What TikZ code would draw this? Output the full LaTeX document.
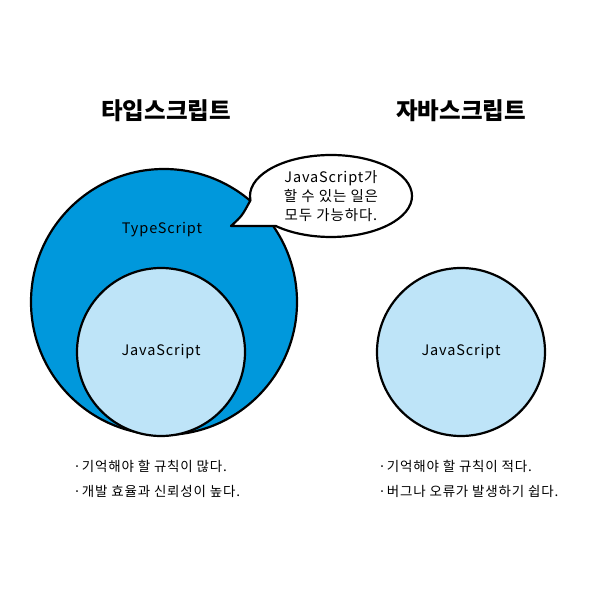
\documentclass[tikz,border=0pt]{standalone}
\usepackage{fontspec}
\usepackage{xcolor}
\usepackage{tikz}
\usetikzlibrary{calc}
\newfontfamily\kr{Noto Sans CJK KR}
\newfontfamily\krwide[LetterSpace=6]{Noto Sans CJK KR}
\definecolor{tsblue}{RGB}{0,152,220}
\definecolor{jsblue}{RGB}{190,228,248}

\begin{document}
\begin{tikzpicture}[x=1pt, y=1pt, line width=2.2pt,
    blob/.style={circle, draw=black, inner sep=0pt},
    title/.style={font=\kr\fontsize{23.5}{26}\selectfont\bfseries},
    lbl/.style={font=\krwide\fontsize{14.5}{19}\selectfont},
    note/.style={font=\krwide\fontsize{13.5}{25}\selectfont, align=left, anchor=west}]
  \useasboundingbox (0,0) rectangle (600,600);
  % circles
  \node[blob, fill=tsblue, minimum size=266] (ts) at (164,298) {};
  \node[blob, fill=jsblue, minimum size=168, lbl] (jsl) at (161,248) {JavaScript};
  \node[blob, fill=jsblue, minimum size=168, lbl] (jsr) at (461,248) {JavaScript};
  \node[lbl] (tsname) at (162,370) {TypeScript};
  % titles
  \node[title] (tleft) at (166,489) {타입스크립트};
  \node[title] (tright) at (461,489) {자바스크립트};
  % speech bubble
  \coordinate (tip) at (231,374);
  \draw[fill=white, line join=round]
    (tip) .. controls (242,384) .. ($(331,404)+(186:81 and 41)$)
    arc[start angle=186, end angle=-133, x radius=81, y radius=41] -- cycle;
  \node[lbl, align=center] (say) at (331,404)
    {JavaScript가\\할 수 있는 일은\\모두 가능하다.};
  % notes
  \node[note] (nleft) at (69,121) {·기억해야 할 규칙이 많다.\\·개발 효율과 신뢰성이 높다.};
  \node[note] (nright) at (374,121) {·기억해야 할 규칙이 적다.\\·버그나 오류가 발생하기 쉽다.};
\end{tikzpicture}
\end{document}
